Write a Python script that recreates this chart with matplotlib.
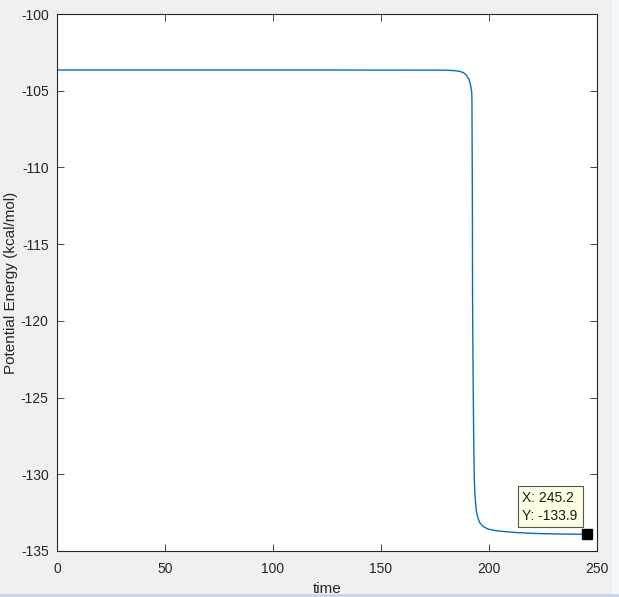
import numpy as np
import matplotlib.pyplot as plt
import matplotlib.patches as patches

# points
t = [0, 60, 120, 177.3, 181.0, 184.0, 186.6, 188.2, 189.5, 190.7, 191.5,
     192.0, 192.1, 192.3, 192.4, 192.6, 192.9, 193.2, 193.5, 193.9, 194.3,
     195.0, 195.8, 197.3, 199.5, 203.0, 207.4, 213.0, 219.8, 228.0, 236.0,
     243.5, 245.2]
energy = [-103.65, -103.65, -103.65, -103.66, -103.67, -103.69, -103.74,
          -103.83, -103.98, -104.25, -104.65, -105.10, -105.6, -112.0,
          -118.64, -123.0, -127.5, -130.37, -131.35, -132.05, -132.54,
          -132.90, -133.17, -133.40, -133.57, -133.67, -133.74, -133.80,
          -133.85, -133.88, -133.90, -133.91, -133.92]

tip_x = 245.2
tip_y = -133.9

plt.rcParams['font.family'] = ['Liberation Sans', 'DejaVu Sans']
plt.rcParams['axes.unicode_minus'] = False

fig = plt.figure(figsize=(6.19, 5.97), dpi=100, facecolor='#f0f0f0')
ax = fig.add_axes([57/619, 46/597, 540/619, 537/597])

ax.plot(t, energy, color='#0072BD', lw=1.0)
ax.plot([tip_x], [tip_y], 's', color='black', ms=7, zorder=5)
ax.text(215.5, -132.13, 'X: %.1f\nY: %.1f' % (tip_x, tip_y), fontsize=10,
        linespacing=1.3, va='center', ha='left', zorder=6, color='#1a1a1a',
        bbox=dict(boxstyle='square,pad=0.35', fc='#ffffe1', ec='#555555', lw=0.8))

ax.set_xlim(0, 250)
ax.set_ylim(-135, -100)
ax.set_xticks(np.arange(0, 251, 50))
ax.set_yticks(np.arange(-135, -99, 5))
ax.tick_params(direction='in', top=True, right=True, length=5, width=0.6,
               labelsize=10, colors='#262626', labelcolor='#262626')
ax.tick_params(axis='x', pad=8)
ax.tick_params(axis='y', pad=6)
for s in ax.spines.values():
    s.set_color('#262626')
    s.set_linewidth(0.8)

ax.set_xlabel('time', fontsize=11, color='#262626', labelpad=4)
ax.set_ylabel('Potential Energy (kcal/mol)', fontsize=11, color='#262626',
              labelpad=2)

# window frame strips
fig.patches.append(patches.Rectangle((0, 0), 1, 3/597, transform=fig.transFigure,
                                     fc='#c6d8ee', ec='none'))
fig.patches.append(patches.Rectangle((612/619, 3/597), 7/619, 1, transform=fig.transFigure,
                                     fc='#f4f7fb', ec='none'))

fig.savefig('out.png', dpi=100, facecolor=fig.get_facecolor())
